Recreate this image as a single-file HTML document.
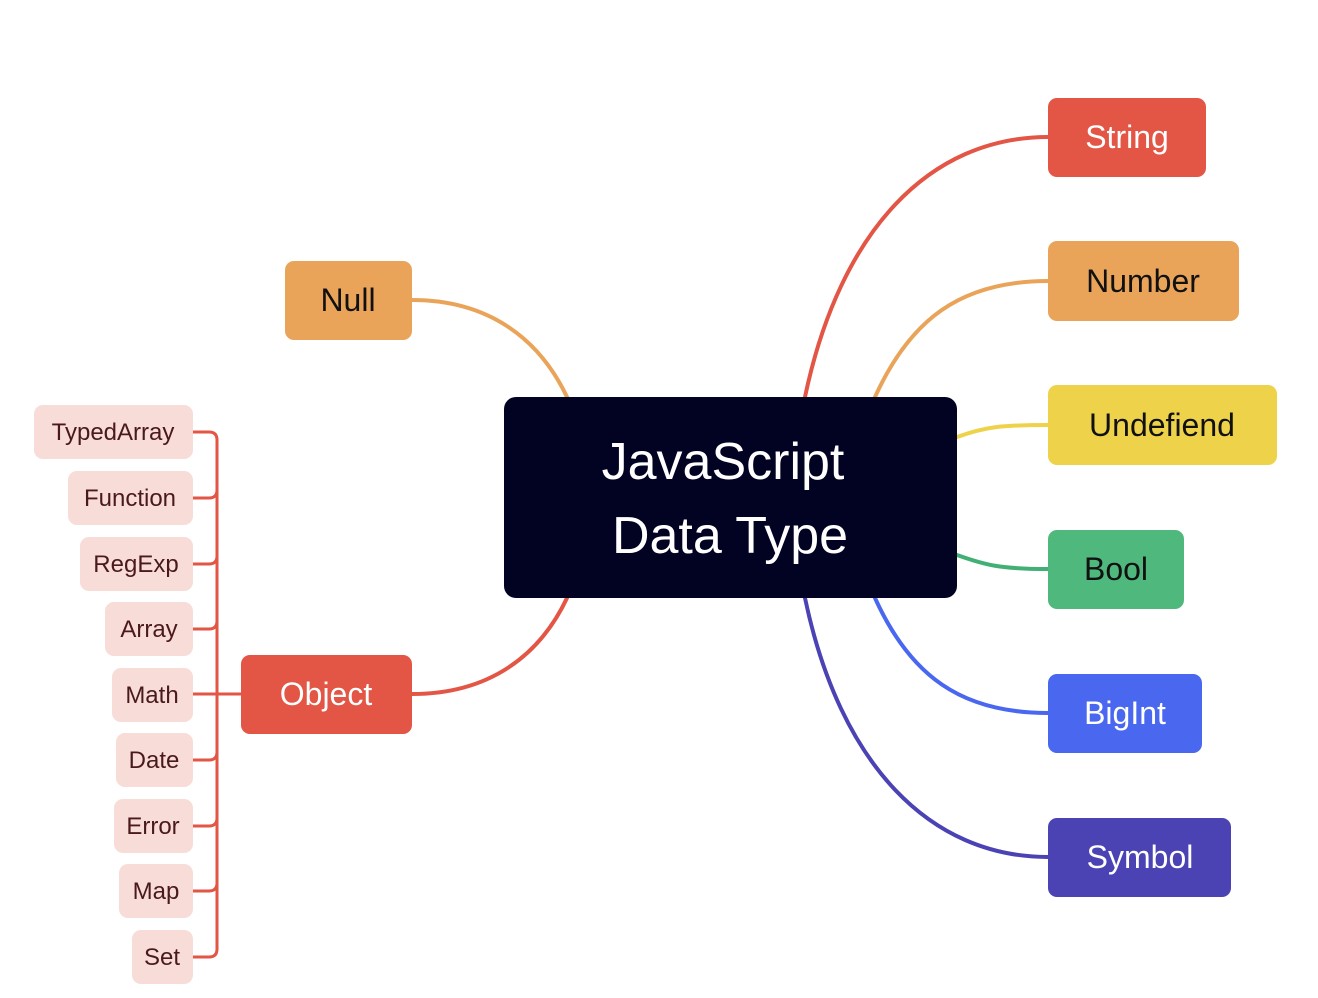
<!DOCTYPE html>
<html><head><meta charset="utf-8"><style>
html,body{margin:0;padding:0;background:#fff;}
svg{display:block;}
text{font-family:"Liberation Sans","DejaVu Sans",sans-serif;}
</style></head><body>
<svg width="1318" height="998" viewBox="0 0 1318 998" xmlns="http://www.w3.org/2000/svg">
<g fill="none" stroke-width="4" stroke-linecap="round">
<path d="M805 397 C840 230 930 137 1048 137" stroke="#e35545"/>
<path d="M875 397 C910 320 960 281 1048 281" stroke="#e9a45a"/>
<path d="M957 437 C985 427 1000 425 1048 425" stroke="#eed34a"/>
<path d="M957 555 C985 565 1000 569 1048 569" stroke="#42b075"/>
<path d="M875 598 C910 675 960 713 1048 713" stroke="#4a67ef"/>
<path d="M805 598 C840 765 930 857 1048 857" stroke="#4b43b4"/>
<path d="M567 397 C540 340 490 300 412 300" stroke="#e9a45a"/>
<path d="M567 598 C540 655 490 694 412 694" stroke="#e35545"/>
</g>
<g fill="none" stroke="#e35545" stroke-width="3">
<path d="M217 440 V950"/>
<path d="M193 432 H209 Q217 432 217 440"/>
<path d="M193 498 H209 Q217 498 217 490"/>
<path d="M193 564 H209 Q217 564 217 556"/>
<path d="M193 629 H209 Q217 629 217 621"/>
<path d="M193 694 H241"/>
<path d="M193 760 H209 Q217 760 217 752"/>
<path d="M193 826 H209 Q217 826 217 818"/>
<path d="M193 891 H209 Q217 891 217 883"/>
<path d="M193 957 H209 Q217 957 217 949"/>
</g>
<rect x="504" y="397" width="453" height="201" rx="12" fill="#020223"/>
<text x="723" y="479" font-size="52" fill="#fff" text-anchor="middle">JavaScript</text>
<text x="730" y="553" font-size="52" fill="#fff" text-anchor="middle">Data Type</text>
<g font-size="32">
<rect x="1048" y="98" width="158" height="79" rx="9" fill="#e35545"/><text x="1127" y="148" fill="#fff" text-anchor="middle">String</text>
<rect x="1048" y="241" width="191" height="80" rx="9" fill="#e9a45a"/><text x="1143" y="292" fill="#111" text-anchor="middle">Number</text>
<rect x="1048" y="385" width="229" height="80" rx="9" fill="#eed34a"/><text x="1162" y="436" fill="#111" text-anchor="middle">Undefiend</text>
<rect x="1048" y="530" width="136" height="79" rx="9" fill="#4fb97d"/><text x="1116" y="580" fill="#111" text-anchor="middle">Bool</text>
<rect x="1048" y="674" width="154" height="79" rx="9" fill="#4a67ef"/><text x="1125" y="724" fill="#fff" text-anchor="middle">BigInt</text>
<rect x="1048" y="818" width="183" height="79" rx="9" fill="#4b43b4"/><text x="1140" y="868" fill="#fff" text-anchor="middle">Symbol</text>
<rect x="285" y="261" width="127" height="79" rx="9" fill="#e9a45a"/><text x="348" y="311" fill="#111" text-anchor="middle">Null</text>
<rect x="241" y="655" width="171" height="79" rx="9" fill="#e35545"/><text x="326" y="705" fill="#fff" text-anchor="middle">Object</text>
</g>
<g font-size="24" fill="#4a1a1a" text-anchor="middle">
<rect x="34" y="405" width="159" height="54" rx="9" fill="#f8dcd8"/><text x="113" y="440">TypedArray</text>
<rect x="68" y="471" width="125" height="54" rx="9" fill="#f8dcd8"/><text x="130" y="506">Function</text>
<rect x="80" y="537" width="113" height="54" rx="9" fill="#f8dcd8"/><text x="136" y="572">RegExp</text>
<rect x="105" y="602" width="88" height="54" rx="9" fill="#f8dcd8"/><text x="149" y="637">Array</text>
<rect x="112" y="668" width="81" height="54" rx="9" fill="#f8dcd8"/><text x="152" y="703">Math</text>
<rect x="116" y="733" width="77" height="54" rx="9" fill="#f8dcd8"/><text x="154" y="768">Date</text>
<rect x="114" y="799" width="79" height="54" rx="9" fill="#f8dcd8"/><text x="153" y="834">Error</text>
<rect x="119" y="864" width="74" height="54" rx="9" fill="#f8dcd8"/><text x="156" y="899">Map</text>
<rect x="132" y="930" width="61" height="54" rx="9" fill="#f8dcd8"/><text x="162" y="965">Set</text>
</g>
</svg>
</body></html>
